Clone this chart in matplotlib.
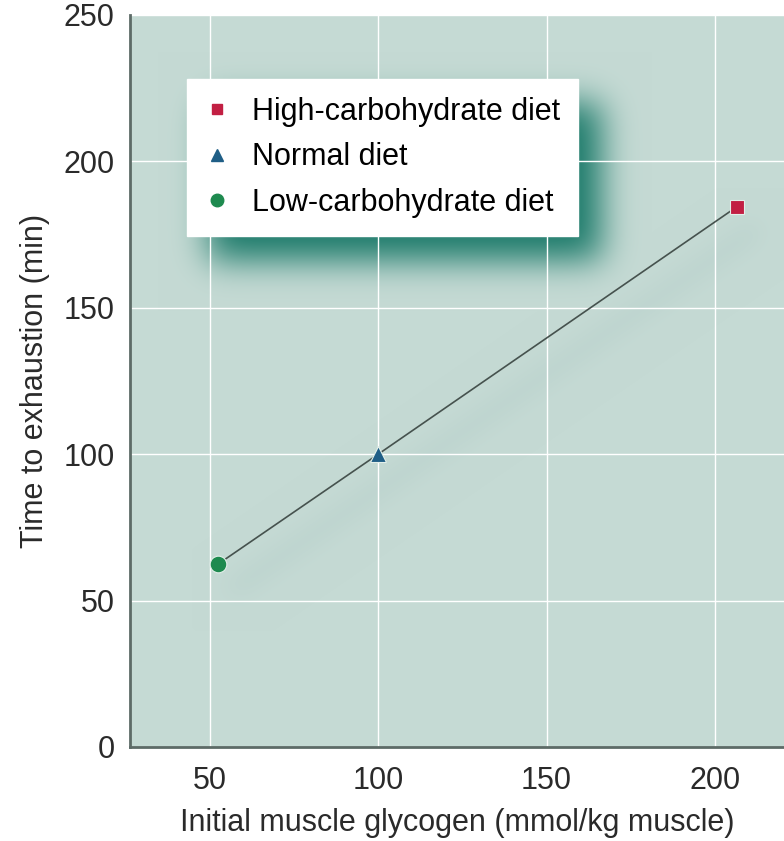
import numpy as np
import matplotlib
matplotlib.use("Agg")
import matplotlib.pyplot as plt
from matplotlib.lines import Line2D

plt.rcParams['font.family'] = ['Liberation Sans', 'DejaVu Sans']

# Diet groups: initial muscle glycogen vs. time to exhaustion
diets = ["High-carbohydrate diet", "Normal diet", "Low-carbohydrate diet"]
glycogen = [206.5, 100.0, 52.5]       # mmol/kg muscle
exhaustion = [184.5, 100.0, 62.5]     # min
markers = ["s", "^", "o"]
colors = ["#c21f43", "#1f5e86", "#1e8a4f"]
msizes = [10, 12, 12]

x_ticks = [50, 100, 150, 200]
y_ticks = [0, 50, 100, 150, 200, 250]

W, H = 784, 841
fig = plt.figure(figsize=(W / 100, H / 100), dpi=100)
ax = fig.add_axes([130 / W, 1 - 747 / H, 654 / W, 732 / H])

bg = np.array([197, 218, 212]) / 255.0
ax.set_facecolor(bg)
ax.set_xlim(26.3, 220.5)
ax.set_ylim(0, 250)

# connecting line (sorted by glycogen) and markers
order = np.argsort(glycogen)
xs = np.array(glycogen)[order]
ys = np.array(exhaustion)[order]
ax.plot(xs, ys, color="#46524e", lw=1.2, zorder=3)
for d, x, y, m, c, s in zip(diets, glycogen, exhaustion, markers, colors, msizes):
    ax.plot([x], [y], marker=m, color=c, ms=s, mec="#e3efe9", mew=0.8,
            ls="none", zorder=4, label=d)

ax.set_xticks(x_ticks)
ax.set_yticks(y_ticks)
ax.tick_params(length=0, labelsize=22, colors="#2a2a2a")
ax.tick_params(axis="y", pad=11)
ax.tick_params(axis="x", pad=14)
ax.grid(True, color="white", lw=1.0)
ax.set_axisbelow(True)
for side in ["top", "right"]:
    ax.spines[side].set_visible(False)
for side in ["left", "bottom"]:
    ax.spines[side].set_color("#5d6b67")
    ax.spines[side].set_linewidth(2)

ax.set_xlabel("Initial muscle glycogen (mmol/kg muscle)", fontsize=22,
              color="#2a2a2a", labelpad=8)
ax.set_ylabel("Time to exhaustion (min)", fontsize=22, color="#2a2a2a",
              labelpad=10)

handles = [Line2D([], [], marker=m, color=c, ls="none", ms=s * 0.75)
           for m, c, s in zip(markers, colors, msizes)]
leg = ax.legend(handles, diets, loc="upper left",
                bbox_to_anchor=(0.087, 0.913), fontsize=22, frameon=True,
                fancybox=False, framealpha=1, edgecolor="white",
                facecolor="white", handlelength=0.8, handletextpad=0.72,
                labelspacing=0.5, borderpad=0.6, borderaxespad=0)
leg.set_zorder(6)

# soft drop shadows under the legend box and the data line
fig.canvas.draw()
bb_ax = ax.get_window_extent()
aw, ah = int(round(bb_ax.width)), int(round(bb_ax.height))
yy, xx = np.mgrid[0:ah, 0:aw]


def blur(img, sigma):
    r = int(3 * sigma)
    k = np.exp(-0.5 * (np.arange(-r, r + 1) / sigma) ** 2)
    k /= k.sum()
    pad = np.pad(img, r, mode="constant")
    tmp = np.apply_along_axis(lambda v: np.convolve(v, k, mode="valid"), 1, pad)
    return np.apply_along_axis(lambda v: np.convolve(v, k, mode="valid"), 0, tmp)


lb = leg.get_window_extent()
lx0, lx1 = lb.x0 - bb_ax.x0, lb.x1 - bb_ax.x0
ly0, ly1 = bb_ax.y1 - lb.y1, bb_ax.y1 - lb.y0   # rows from top
dx, dy = 22, 24
mask_leg = ((xx >= lx0 + dx) & (xx <= lx1 + dx) &
            (yy >= ly0 + dy) & (yy <= ly1 + dy)).astype(float)
mask_leg = np.clip(blur(mask_leg, 17) * 1.05, 0, 0.92)

pts = ax.transData.transform(np.column_stack([xs, ys]))
px = pts[:, 0] - bb_ax.x0 + 16
py = bb_ax.y1 - pts[:, 1] + 24
dist = np.full(xx.shape, np.inf)
for i in range(len(px) - 1):
    ax_, ay_, bx_, by_ = px[i], py[i], px[i + 1], py[i + 1]
    vx, vy = bx_ - ax_, by_ - ay_
    t = np.clip(((xx - ax_) * vx + (yy - ay_) * vy) / (vx * vx + vy * vy), 0, 1)
    dist = np.minimum(dist, np.hypot(xx - (ax_ + t * vx), yy - (ay_ + t * vy)))
mask_line = blur((dist < 7).astype(float), 12) * 0.16

shadow_leg = np.array([34, 126, 110]) / 255.0
shadow_line = np.array([120, 160, 160]) / 255.0
img = np.ones((ah, aw, 3)) * bg
img = img * (1 - mask_line[..., None]) + shadow_line * mask_line[..., None]
img = img * (1 - mask_leg[..., None]) + shadow_leg * mask_leg[..., None]
ax.imshow(img, extent=(0, 1, 0, 1), transform=ax.transAxes, aspect="auto",
          zorder=0, interpolation="bilinear")
ax.set_xlim(26.3, 220.5)
ax.set_ylim(0, 250)

fig.savefig("out.png", dpi=100, facecolor="white")
